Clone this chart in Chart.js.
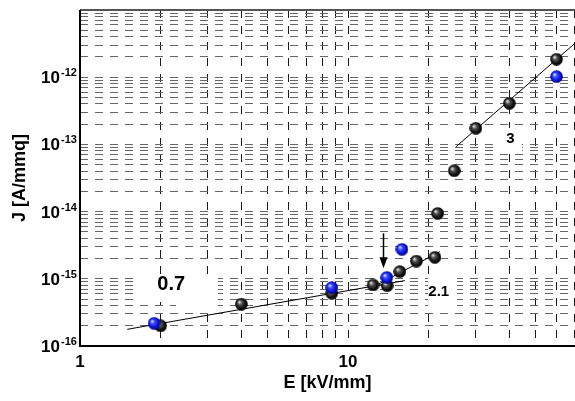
<!DOCTYPE html>
<html>
<head>
<meta charset="utf-8">
<script src="https://cdn.jsdelivr.net/npm/chart.js@4/dist/chart.umd.min.js"></script>
<style>
  html, body { margin: 0; padding: 0; background: #fff; }
  canvas { display: block; }
</style>
</head>
<body>
<canvas id="chart" width="575" height="401"></canvas>
<script>
// Measured current density J against applied field E
const blackE = [2.0, 4.0, 8.7, 12.4, 14.0, 15.6, 18.0, 21.1, 21.6, 24.9, 30.0, 40.0, 60.0];
const blackJ = [2.0e-16, 4.2e-16, 6.1e-16, 8.1e-16, 7.9e-16, 1.28e-15, 1.84e-15, 2.09e-15, 9.4e-15, 4.06e-14, 1.74e-13, 4.09e-13, 1.85e-12];
const blueE  = [1.89, 8.7, 13.95, 15.9, 60.0];
const blueJ  = [2.18e-16, 7.4e-16, 1.05e-15, 2.75e-15, 1.02e-12];

// Power-law fit segments (end points)
const fitLowE  = [1.5, 16.3];
const fitLowJ  = [1.77e-16, 9.4e-16];
const fitMidE  = [12.4, 22.0];
const fitMidJ  = [7.55e-16, 2.53e-15];
const fitHighE = [25.3, 70.3];
const fitHighJ = [9.25e-14, 3.2e-12];
const slopeLabels = ['0.7', '2.1', '3'];

// Axis ticks
const xGrid = [1, 2, 3, 4, 5, 6, 7, 8, 9, 10, 20, 30, 40, 50, 60, 70];
const xTickLabels = ['1', '10'];
const yDecades = [-16, -15, -14, -13, -12, -11];
const yLabelDecades = [-16, -15, -14, -13, -12];

const FONT = '"Liberation Sans", Arial, sans-serif';

const pairs = (xs, ys) => xs.map((x, i) => ({ x: x, y: ys[i] }));

const yGrid = [];
yDecades.forEach(e => {
  const top = e === yDecades[yDecades.length - 1];
  for (let k = 1; k <= (top ? 1 : 9); k++) yGrid.push(Number((k + 'e' + e)));
});

// Shaded ball markers
function ball(light, mid, dark, edge) {
  const d = 13, c = document.createElement('canvas');
  c.width = d; c.height = d;
  const g = c.getContext('2d');
  const grad = g.createRadialGradient(4.3, 4.3, 0.3, 6.5, 6.5, 6.5);
  grad.addColorStop(0, light);
  grad.addColorStop(0.3, mid);
  grad.addColorStop(0.7, dark);
  grad.addColorStop(1, edge);
  g.fillStyle = grad;
  g.beginPath();
  g.arc(6.5, 6.5, 6.3, 0, Math.PI * 2);
  g.fill();
  return c;
}
const blackBall = ball('#f0f0f0', '#555555', '#111111', '#000000');
const blueBall  = ball('#dfe6ff', '#3b4dff', '#0a12d8', '#000070');

// Slope annotations, label backgrounds and the marker arrow (data units)
const notes = {
  boxes: [
    [1.604, 3.27, 4.52e-16, 1.10e-15],
    [2.28, 3.27, 3.68e-16, 4.52e-16],
    [19.9, 25.5, 3.68e-16, 1.10e-15],
    [35.4, 44.6, 7.7e-14, 1.75e-13]
  ],
  texts: [
    { x: 2.19, y: 8.2e-16, size: 20 },
    { x: 21.8, y: 6.4e-16, size: 15 },
    { x: 40.4, y: 1.2e-13, size: 15 }
  ],
  arrow: { x: 13.5, from: 4.75e-15, to: 1.43e-15 }
};

const decor = {
  id: 'decor',
  beforeDatasetsDraw(chart) {
    const { ctx, scales: { x, y } } = chart;
    ctx.save();
    ctx.fillStyle = '#ffffff';
    notes.boxes.forEach(b => {
      const x0 = x.getPixelForValue(b[0]), x1 = x.getPixelForValue(b[1]);
      const y0 = y.getPixelForValue(b[3]), y1 = y.getPixelForValue(b[2]);
      ctx.fillRect(x0, y0, x1 - x0, y1 - y0);
    });
    ctx.restore();
  },
  afterDatasetsDraw(chart) {
    const { ctx, scales: { x, y } } = chart;
    ctx.save();
    ctx.fillStyle = '#000';
    ctx.textAlign = 'center';
    ctx.textBaseline = 'middle';
    notes.texts.forEach((t, i) => {
      ctx.font = 'bold ' + t.size + 'px ' + FONT;
      ctx.fillText(slopeLabels[i], x.getPixelForValue(t.x), y.getPixelForValue(t.y));
    });
    // arrow
    const ax = Math.round(x.getPixelForValue(notes.arrow.x)) + 0.5;
    const ay0 = y.getPixelForValue(notes.arrow.from);
    const ay1 = y.getPixelForValue(notes.arrow.to);
    ctx.strokeStyle = '#000';
    ctx.lineWidth = 1.5;
    ctx.beginPath();
    ctx.moveTo(ax, ay0);
    ctx.lineTo(ax, ay1 - 8);
    ctx.stroke();
    ctx.beginPath();
    ctx.moveTo(ax, ay1);
    ctx.lineTo(ax - 4, ay1 - 11);
    ctx.lineTo(ax + 4, ay1 - 11);
    ctx.closePath();
    ctx.fill();
    ctx.restore();
  },
  afterDraw(chart) {
    const { ctx, chartArea: a, scales: { y } } = chart;
    ctx.save();
    // frame: axes and top edge
    ctx.lineWidth = 2;
    ctx.strokeStyle = '#555';
    ctx.beginPath();
    ctx.moveTo(a.left, a.top);
    ctx.lineTo(a.right, a.top);
    ctx.stroke();
    ctx.strokeStyle = '#000';
    ctx.beginPath();
    ctx.moveTo(a.left, a.top);
    ctx.lineTo(a.left, a.bottom);
    ctx.lineTo(a.right, a.bottom);
    ctx.stroke();
    // y tick labels as powers of ten
    ctx.fillStyle = '#000';
    yLabelDecades.forEach(e => {
      const py = y.getPixelForValue(Number('1e' + e));
      ctx.textAlign = 'right';
      ctx.textBaseline = 'alphabetic';
      ctx.font = 'bold 17px ' + FONT;
      ctx.fillText('10', a.left - 20, py + 6);
      ctx.textAlign = 'left';
      ctx.font = 'bold 11px ' + FONT;
      ctx.fillText(String(e), a.left - 19, py - 1);
    });
    ctx.restore();
  }
};

new Chart(document.getElementById('chart'), {
  type: 'scatter',
  data: {
    datasets: [
      { label: 'blue', data: pairs(blueE, blueJ), pointStyle: blueBall, pointRadius: 6.5, order: 0 },
      { label: 'black', data: pairs(blackE, blackJ), pointStyle: blackBall, pointRadius: 6.5, order: 1 },
      { label: 'fit 0.7', data: pairs(fitLowE, fitLowJ), showLine: true, pointRadius: 0, borderColor: '#000', borderWidth: 1, order: 2 },
      { label: 'fit 2.1', data: pairs(fitMidE, fitMidJ), showLine: true, pointRadius: 0, borderColor: '#000', borderWidth: 1, order: 3 },
      { label: 'fit 3', data: pairs(fitHighE, fitHighJ), showLine: true, pointRadius: 0, borderColor: '#000', borderWidth: 1, order: 4 }
    ]
  },
  options: {
    responsive: false,
    animation: false,
    devicePixelRatio: 1,
    layout: { autoPadding: false, padding: { top: 10, right: 0, left: 0, bottom: 0 } },
    plugins: { legend: { display: false }, tooltip: { enabled: false } },
    scales: {
      x: {
        type: 'logarithmic',
        position: 'bottom',
        min: 1,
        max: 70.3,
        bounds: 'data',
        afterBuildTicks: s => { s.ticks = xGrid.map(v => ({ value: v })); },
        afterFit: s => { s.height = 55; s.paddingLeft = 0; s.paddingRight = 0; },
        grid: { color: '#1a1a1a', lineWidth: 1, drawTicks: false },
        border: { display: false, dash: [8, 8] },
        ticks: {
          autoSkip: false,
          maxRotation: 0,
          padding: 6,
          color: '#000',
          font: { family: FONT, size: 17, weight: 'bold' },
          callback: v => (xTickLabels.includes(String(v)) ? String(v) : '')
        },
        title: {
          display: true,
          text: 'E [kV/mm]',
          color: '#000',
          font: { family: FONT, size: 18, weight: 'bold' },
          padding: { top: 0, bottom: 7 }
        }
      },
      y: {
        type: 'logarithmic',
        min: 1e-16,
        max: 1e-11,
        bounds: 'data',
        afterBuildTicks: s => { s.ticks = yGrid.map(v => ({ value: v })); },
        afterFit: s => { s.width = 80; s.paddingTop = 0; s.paddingBottom = 0; },
        grid: { color: '#666', lineWidth: 1, drawTicks: false },
        border: { display: false, dash: [8, 7] },
        ticks: { display: false, autoSkip: false },
        title: {
          display: true,
          text: 'J [A/mmq]',
          color: '#000',
          font: { family: FONT, size: 18, weight: 'bold' },
          padding: { top: 9, bottom: 0 }
        }
      }
    }
  },
  plugins: [decor]
});
</script>
</body>
</html>
